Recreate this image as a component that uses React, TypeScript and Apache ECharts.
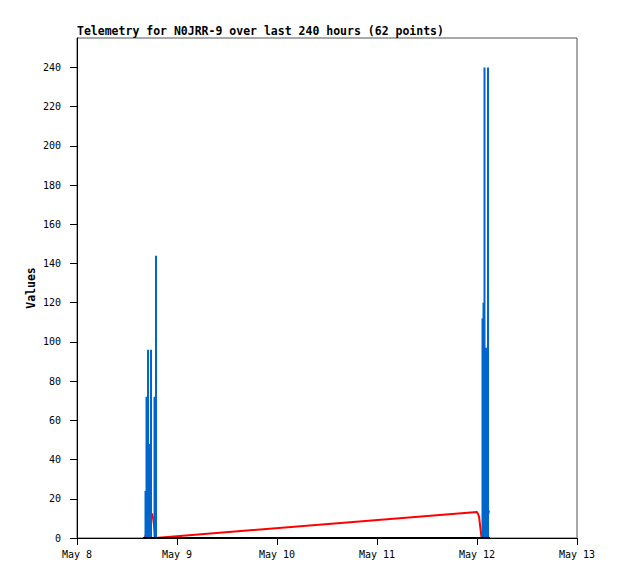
import React, { useEffect, useRef } from "react";
import * as echarts from "echarts";

// x values are hours since May 8 00:00
const xTickHours = [0, 24, 48, 72, 96, 120];
const xTickLabels = ["May 8", "May 9", "May 10", "May 11", "May 12", "May 13"];
const yTicks = [0, 20, 40, 60, 80, 100, 120, 140, 160, 180, 200, 220, 240];

const blueHours = [16.44, 16.68, 17.04, 17.4, 17.76, 18.6, 18.96, 97.32, 97.56, 97.8, 98.16, 98.64];
const blueValues = [24, 72, 96, 48, 96, 72, 144, 112, 120, 240, 97, 240];

const redHours = [16.3, 18.0, 18.31, 18.84, 96.0, 96.48, 97.08, 97.44, 98.88];
const redValues = [0, 12.5, 9.5, 0, 13.3, 11, 0.5, 0, 14];

const blackHours = [15.84, 99.12];
const blackValues = [0, 0];

const FONT = "DejaVu Sans Mono";

export default function App() {
  const ref = useRef<HTMLDivElement>(null);
  useEffect(() => {
    if (!ref.current) return;
    const chart = echarts.init(ref.current, null, { renderer: "svg" });
    const pair = (xs: number[], ys: number[]) => xs.map((x, i) => [x, ys[i]]);
    chart.setOption({
      animation: false,
      backgroundColor: "#ffffff",
      title: {
        text: "Telemetry for N0JRR-9 over last 240 hours (62 points)",
        left: 77,
        top: 25,
        padding: 0,
        textStyle: { fontFamily: FONT, fontWeight: "bold", fontSize: 11.5, color: "#000" },
      },
      grid: {
        left: 77,
        top: 38,
        right: 41,
        bottom: 41,
        show: true,
        borderColor: "#555",
        borderWidth: 1,
      },
      xAxis: {
        type: "value",
        min: 0,
        max: 120,
        interval: 24,
        splitLine: { show: false },
        axisLine: { lineStyle: { color: "#000", width: 1 } },
        axisTick: { length: 7, lineStyle: { color: "#000" }, customValues: xTickHours },
        axisLabel: {
          customValues: xTickHours,
          formatter: (v: number) => xTickLabels[xTickHours.indexOf(v)] ?? "",
          fontFamily: FONT,
          fontSize: 10,
          color: "#000",
          margin: 11,
        },
      },
      yAxis: {
        type: "value",
        min: 0,
        max: 255,
        interval: 20,
        name: "Values",
        nameLocation: "middle",
        nameGap: 40,
        nameMoveOverlap: false,
        nameTextStyle: { fontFamily: FONT, fontWeight: "bold", fontSize: 11.5, color: "#000" },
        splitLine: { show: false },
        axisLine: { lineStyle: { color: "#000", width: 1 } },
        axisTick: { length: 7, lineStyle: { color: "#000" }, customValues: yTicks },
        axisLabel: {
          customValues: yTicks,
          fontFamily: FONT,
          fontSize: 10,
          color: "#000",
          margin: 16,
        },
      },
      series: [
        {
          type: "line",
          data: pair(redHours, redValues),
          showSymbol: false,
          lineStyle: { color: "#ff0000", width: 2 },
          z: 1,
        },
        {
          type: "bar",
          data: pair(blueHours, blueValues),
          barWidth: 2,
          itemStyle: { color: "#0066cc" },
          z: 2,
        },
        {
          type: "line",
          data: pair(blackHours, blackValues),
          showSymbol: false,
          lineStyle: { color: "#000000", width: 2 },
          z: 3,
        },
      ],
    });
    return () => chart.dispose();
  }, []);
  return (
    <div
      ref={ref}
      style={{ position: "absolute", left: 0, top: 0, width: 618, height: 579 }}
    />
  );
}
